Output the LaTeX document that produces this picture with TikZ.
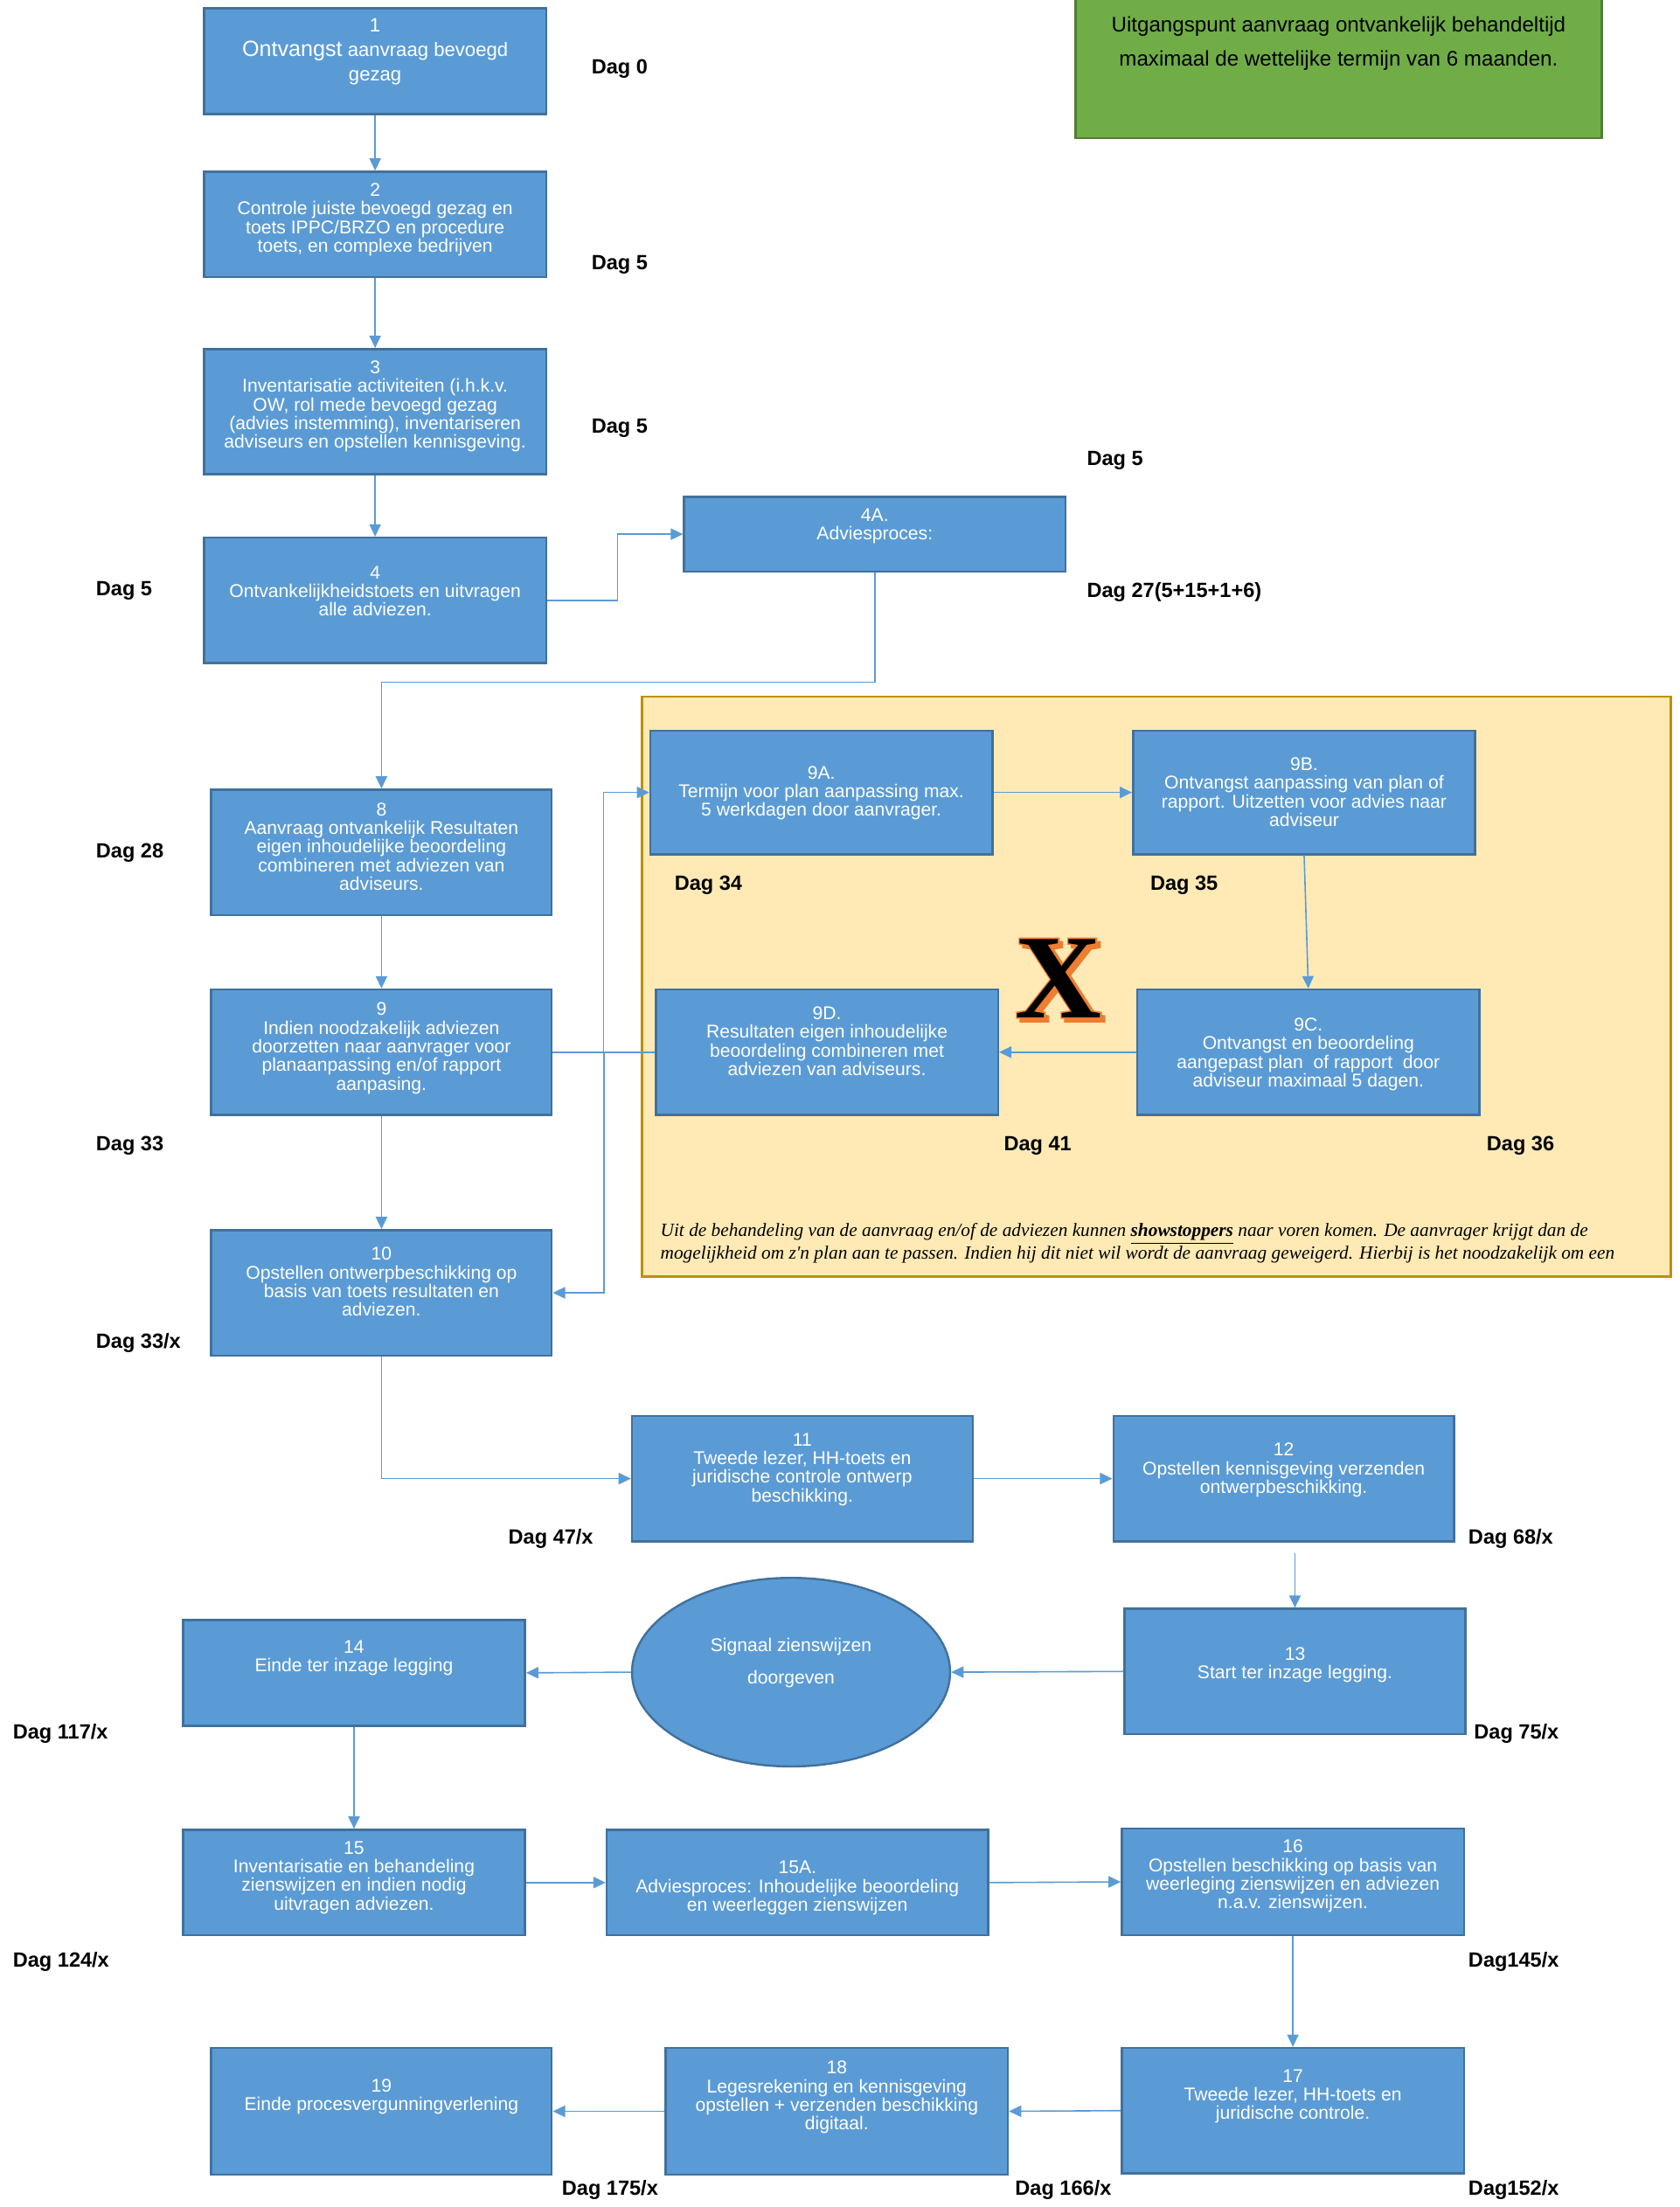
\documentclass[tikz,border=0pt]{standalone}
\usepackage{fontspec}
\setmainfont{Liberation Sans}
\newfontfamily\serifx{Liberation Serif}
\newfontfamily\serifxo{Liberation Serif}[FakeBold=2.5]
\usetikzlibrary{fit,arrows.meta,shapes.geometric,calc}
\definecolor{boxblue}{HTML}{5B9BD5}
\definecolor{boxedge}{HTML}{41719C}
\definecolor{yelfill}{HTML}{FFEAB5}
\definecolor{goldedge}{HTML}{BF9000}
\definecolor{grfill}{HTML}{70AD47}
\definecolor{gredge}{HTML}{507E32}
\definecolor{xorange}{HTML}{ED7D31}
\begin{document}
\begin{tikzpicture}[x=0.8pt,y=-0.8pt,
  box/.style={draw=boxedge, fill=boxblue, line width=1.2pt, inner sep=0pt},
  btxt/.style={text=white, align=center, inner sep=0pt, font=\fontsize{10.5}{10.6}\selectfont, anchor=north},
  dag/.style={font=\fontsize{11.7}{13}\selectfont\bfseries, anchor=west, inner sep=0pt},
  arr/.style={draw=boxblue, line width=0.8pt, -{Triangle[length=7pt,width=6.5pt]}},
]
\useasboundingbox (0,0) rectangle (1193,1568);

% green note and yellow frame
\node[fit={(764,-3)(1138,98)}, fill=grfill, draw=gredge, line width=1.2pt, inner sep=0pt] (gbox) {};
\node[anchor=north, align=center, inner sep=0pt, font=\fontsize{12}{19.2}\selectfont] (gtxt) at (951,11.5)
  {Uitgangspunt aanvraag ontvankelijk behandeltijd\\maximaal de wettelijke termijn van 6 maanden.};
\node[fit={(456,495)(1187,907)}, fill=yelfill, draw=goldedge, line width=1.2pt, inner sep=0pt] (yel) {};

% boxes
\node[box, fit={(145,6)(388,81)}] (b1) {};
\node[box, fit={(145,122)(388,197)}] (b2) {};
\node[box, fit={(145,248)(388,337)}] (b3) {};
\node[box, fit={(145,382)(388,471)}] (b4) {};
\node[box, fit={(486,353)(757,406)}] (b4A) {};
\node[box, fit={(150,561)(392,650)}] (b8) {};
\node[box, fit={(150,703)(392,792)}] (b9) {};
\node[box, fit={(462,519)(705,607)}] (b9A) {};
\node[box, fit={(805,519)(1048,607)}] (b9B) {};
\node[box, fit={(808,703)(1051,792)}] (b9C) {};
\node[box, fit={(466,703)(709,792)}] (b9D) {};
\node[box, fit={(150,874)(392,963)}] (b10) {};
\node[box, fit={(449,1006)(691,1095)}] (b11) {};
\node[box, fit={(791,1006)(1033,1095)}] (b12) {};
\node[box, fit={(799,1143)(1041,1232)}] (b13) {};
\node[box, fit={(130,1151)(373,1226)}] (b14) {};
\node[box, fit={(130,1300)(373,1375)}] (b15) {};
\node[box, fit={(431,1300)(702,1375)}] (b15A) {};
\node[box, fit={(797,1299)(1040,1375)}] (b16) {};
\node[box, fit={(797,1455)(1040,1544)}] (b17) {};
\node[box, fit={(473,1455)(716,1545)}] (b18) {};
\node[box, fit={(150,1455)(392,1545)}] (b19) {};
\node[ellipse, draw=boxedge, fill=boxblue, line width=1.2pt, minimum width=180.8pt, minimum height=107.2pt, inner sep=0pt] (ell) at (562,1188) {};

% connectors
\draw[arr] (b1.south) -- (b2.north);
\draw[arr] (b2.south) -- (b3.north);
\draw[arr] (b3.south) -- (b4.north);
\draw[arr] (b4.east) -- ++(50,0) |- (b4A.west);
\draw[arr] (b4A.south) -- ++(0,78) -| (b8.north);
\draw[arr] (b8.south) -- (b9.north);
\draw[arr] (b9.east) -- ++(36,0) |- (b9A.west);
\draw[arr] (b9D.west) -- ++(-36,0) |- (b10.east);
\draw[arr] (b9.south) -- (b10.north);
\draw[arr] (b9A.east) -- (b9B.west);
\draw[arr] (b9B.south) -- (b9C.north);
\draw[arr] (b9C.west) -- (b9D.east);
\draw[arr] (b10.south) |- (b11.west);
\draw[arr] (b11.east) -- (b12.west);
\draw[arr] ([yshift=-6.4pt]b13.north |- b12.south) -- (b13.north);
\draw[arr] (b13.west) -- (ell.east);
\draw[arr] (ell.west) -- (b14.east);
\draw[arr] (b14.south) -- (b15.north);
\draw[arr] (b15.east) -- (b15A.west);
\draw[arr] (b15A.east) -- (b16.west);
\draw[arr] (b16.south) -- (b17.north);
\draw[arr] (b17.west) -- (b18.east);
\draw[arr] (b18.west) -- (b19.east);

% box texts
\node[btxt, font=\fontsize{11}{14}\selectfont] (t1) at (266.5,13) {1\\{\fontsize{12.5}{14}\selectfont Ontvangst} aanvraag bevoegd\\gezag};
\node[btxt] (t2) at (266.5,130) {2\\Controle juiste bevoegd gezag en\\toets IPPC/BRZO en procedure\\toets, en complexe bedrijven};
\node[btxt] (t3) at (266.5,256) {3\\Inventarisatie activiteiten (i.h.k.v.\\OW, rol mede bevoegd gezag\\(advies instemming), inventariseren\\adviseurs en opstellen kennisgeving.};
\node[btxt] (t4) at (266.5,402) {4\\Ontvankelijkheidstoets en uitvragen\\alle adviezen.};
\node[btxt] (t4A) at (621.5,361) {4A.\\Adviesproces:};
\node[btxt] (t8) at (271,570) {8\\Aanvraag ontvankelijk Resultaten\\eigen inhoudelijke beoordeling\\combineren met adviezen van\\adviseurs.};
\node[btxt] (t9) at (271,712) {9\\Indien noodzakelijk adviezen\\doorzetten naar aanvrager voor\\planaanpassing en/of rapport\\aanpasing.};
\node[btxt] (t9A) at (583.5,544) {9A.\\Termijn voor plan aanpassing max.\\5 werkdagen door aanvrager.};
\node[btxt] (t9B) at (926.5,538) {9B.\\Ontvangst aanpassing van plan of\\rapport. Uitzetten voor advies naar\\adviseur};
\node[btxt] (t9C) at (929.5,723) {9C.\\Ontvangst en beoordeling\\aangepast plan\ \ of rapport\ \ door\\adviseur maximaal 5 dagen.};
\node[btxt] (t9D) at (587.5,715) {9D.\\Resultaten eigen inhoudelijke\\beoordeling combineren met\\adviezen van adviseurs.};
\node[btxt] (t10) at (271,886) {10\\Opstellen ontwerpbeschikking op\\basis van toets resultaten en\\adviezen.};
\node[btxt] (t11) at (570,1018) {11\\Tweede lezer, HH-toets en\\juridische controle ontwerp\\beschikking.};
\node[btxt] (t12) at (912,1025) {12\\Opstellen kennisgeving verzenden\\ontwerpbeschikking.};
\node[btxt] (t13) at (920,1170) {13\\Start ter inzage legging.};
\node[btxt] (t14) at (251.5,1165) {14\\Einde ter inzage legging};
\node[btxt] (t15) at (251.5,1308) {15\\Inventarisatie en behandeling\\zienswijzen en indien nodig\\uitvragen adviezen.};
\node[btxt] (t15A) at (566.5,1322) {15A.\\Adviesproces: Inhoudelijke beoordeling\\en weerleggen zienswijzen};
\node[btxt] (t16) at (918.5,1307) {16\\Opstellen beschikking op basis van\\weerleging zienswijzen en adviezen\\n.a.v. zienswijzen.};
\node[btxt] (t17) at (918.5,1470) {17\\Tweede lezer, HH-toets en\\juridische controle.};
\node[btxt] (t18) at (594.5,1464) {18\\Legesrekening en kennisgeving\\opstellen + verzenden beschikking\\digitaal.};
\node[btxt] (t19) at (271,1477) {19\\Einde procesvergunningverlening};
\node[text=white, align=center, inner sep=0pt, font=\fontsize{10.5}{18.4}\selectfont] (tell) at (562,1181.5) {Signaal zienswijzen\\doorgeven};

% X mark: orange shadow and outline, black glyph on top
\node[inner sep=0pt, text=xorange, font=\serifxo\bfseries\fontsize{68}{68}\selectfont] (xs) at (754.5,697.5) {X};
\node[inner sep=0pt, text=xorange, font=\serifxo\bfseries\fontsize{68}{68}\selectfont] (xo) at (752,695) {X};
\node[inner sep=0pt, text=black, font=\serifx\bfseries\fontsize{68}{68}\selectfont] (xb) at (752,695) {X};

% italic note
\node[anchor=north west, align=left, inner sep=0pt, font=\serifx\itshape\fontsize{10.6}{12.8}\selectfont] (note) at (469,869)
  {Uit de behandeling van de aanvraag en/of de adviezen kunnen \underline{\textbf{showstoppers}} naar voren komen. De aanvrager krijgt dan de\\mogelijkheid om z'n plan aan te passen. Indien hij dit niet wil wordt de aanvraag geweigerd. Hierbij is het noodzakelijk om een};

% day labels
\node[dag] (d0) at (420,49) {Dag 0};
\node[dag] (d5a) at (420,188) {Dag 5};
\node[dag] (d5b) at (420,304) {Dag 5};
\node[dag] (d5c) at (772,327) {Dag 5};
\node[dag] (d27) at (772,421) {Dag 27(5+15+1+6)};
\node[dag] (d5d) at (68,420) {Dag 5};
\node[dag] (d28) at (68,606) {Dag 28};
\node[dag] (d34) at (479,629) {Dag 34};
\node[dag] (d35) at (817,629) {Dag 35};
\node[dag] (d41) at (713,814) {Dag 41};
\node[dag] (d36) at (1056,814) {Dag 36};
\node[dag] (d33) at (68,814) {Dag 33};
\node[dag] (d33x) at (68,954) {Dag 33/x};
\node[dag] (d47) at (361,1093) {Dag 47/x};
\node[dag] (d68) at (1043,1093) {Dag 68/x};
\node[dag] (d75) at (1047,1232) {Dag 75/x};
\node[dag] (d117) at (9,1232) {Dag 117/x};
\node[dag] (d124) at (9,1394) {Dag 124/x};
\node[dag] (d145) at (1043,1394) {Dag145/x};
\node[dag] (d152) at (1043,1556) {Dag152/x};
\node[dag] (d166) at (721,1556) {Dag 166/x};
\node[dag] (d175) at (399,1556) {Dag 175/x};
\end{tikzpicture}
\end{document}
